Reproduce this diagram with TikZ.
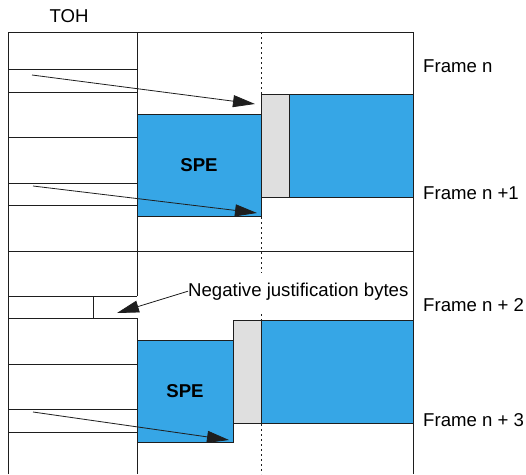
\documentclass[tikz,border=0pt]{standalone}
\usepackage{fontspec}
\setmainfont{Liberation Sans}
\usetikzlibrary{arrows.meta}
\definecolor{speblue}{RGB}{54,166,230}
\definecolor{pgray}{RGB}{223,223,223}
\definecolor{ink}{RGB}{30,30,30}
\begin{document}
\begin{tikzpicture}[x=1pt,y=-1pt,
  grid/.style={draw=ink,line width=0.9pt},
  payload/.style={draw=ink,line width=0.9pt,fill=speblue,inner sep=0pt,
    font=\fontsize{18.6}{21}\selectfont\bfseries},
  stuffing/.style={draw=ink,line width=0.9pt,fill=pgray,inner sep=0pt},
  ptr/.style={draw=ink,line width=0.8pt,-{Triangle[length=22pt,width=12pt]}},
  lbl/.style={font=\fontsize{18.6}{21}\selectfont,inner sep=0pt},
  boundary/.style={draw=ink,line width=0.9pt,dash pattern=on 2pt off 3pt}]
\useasboundingbox (0,0) rectangle (526,474);

% frame boundary (dotted), interrupted by the label
\draw[boundary] (261,32) -- (261,273);
\draw[boundary] (261,314) -- (261,474);

% outer frame and TOH column
\draw[grid] (8,474) -- (8,32) -- (413,32) -- (413,474);
\draw[grid] (137,32) -- (137,296);
\draw[grid] (137,318) -- (137,474);
\foreach \y in {69,92,137,183,205,296,318,364,409,432}
  \draw[grid] (8,\y) -- (137,\y);
\draw[grid] (8,251) -- (413,251);
\draw[grid] (93,296) -- (93,318);

% payload of frame n / n+1
\node[payload,minimum width=124pt,minimum height=102pt] (spe1) at (199,165) {SPE};
\node[stuffing,minimum width=28pt,minimum height=103pt,anchor=north west] (gap1) at (261,94) {};
\node[payload,minimum width=124pt,minimum height=103pt,anchor=north west] (rest1) at (289,94) {};

% payload of frame n+2 / n+3
\node[payload,minimum width=96pt,minimum height=102pt] (spe2) at (185,391) {SPE};
\node[stuffing,minimum width=28pt,minimum height=103pt,anchor=north west] (gap2) at (233,320) {};
\node[payload,minimum width=152pt,minimum height=103pt,anchor=north west] (rest2) at (261,320) {};

% labels
\node[lbl,anchor=base] (toh) at (69,22.5) {TOH};
\node[lbl,anchor=base west] (fn0) at (423,72.5) {Frame n};
\node[lbl,anchor=base west] (fn1) at (423,199.5) {Frame n +1};
\node[lbl,anchor=base west] (fn2) at (423,311.5) {Frame n + 2};
\node[lbl,anchor=base west] (fn3) at (423,426.5) {Frame n + 3};
\node[lbl,anchor=base west] (neg) at (188,296) {Negative justification bytes};

% pointers
\coordinate (p1) at (32,75);   \coordinate (t1) at (255,104);
\coordinate (p2) at (33,186);  \coordinate (t2) at (257,213);
\coordinate (p3) at (33,412);  \coordinate (t3) at (229,440);
\coordinate (t4) at (117,313);
\draw[ptr] (p1) -- (t1);
\draw[ptr] (p2) -- (t2);
\draw[ptr] (p3) -- (t3);
\draw[ptr] (neg.west) -- (t4);
\end{tikzpicture}
\end{document}
